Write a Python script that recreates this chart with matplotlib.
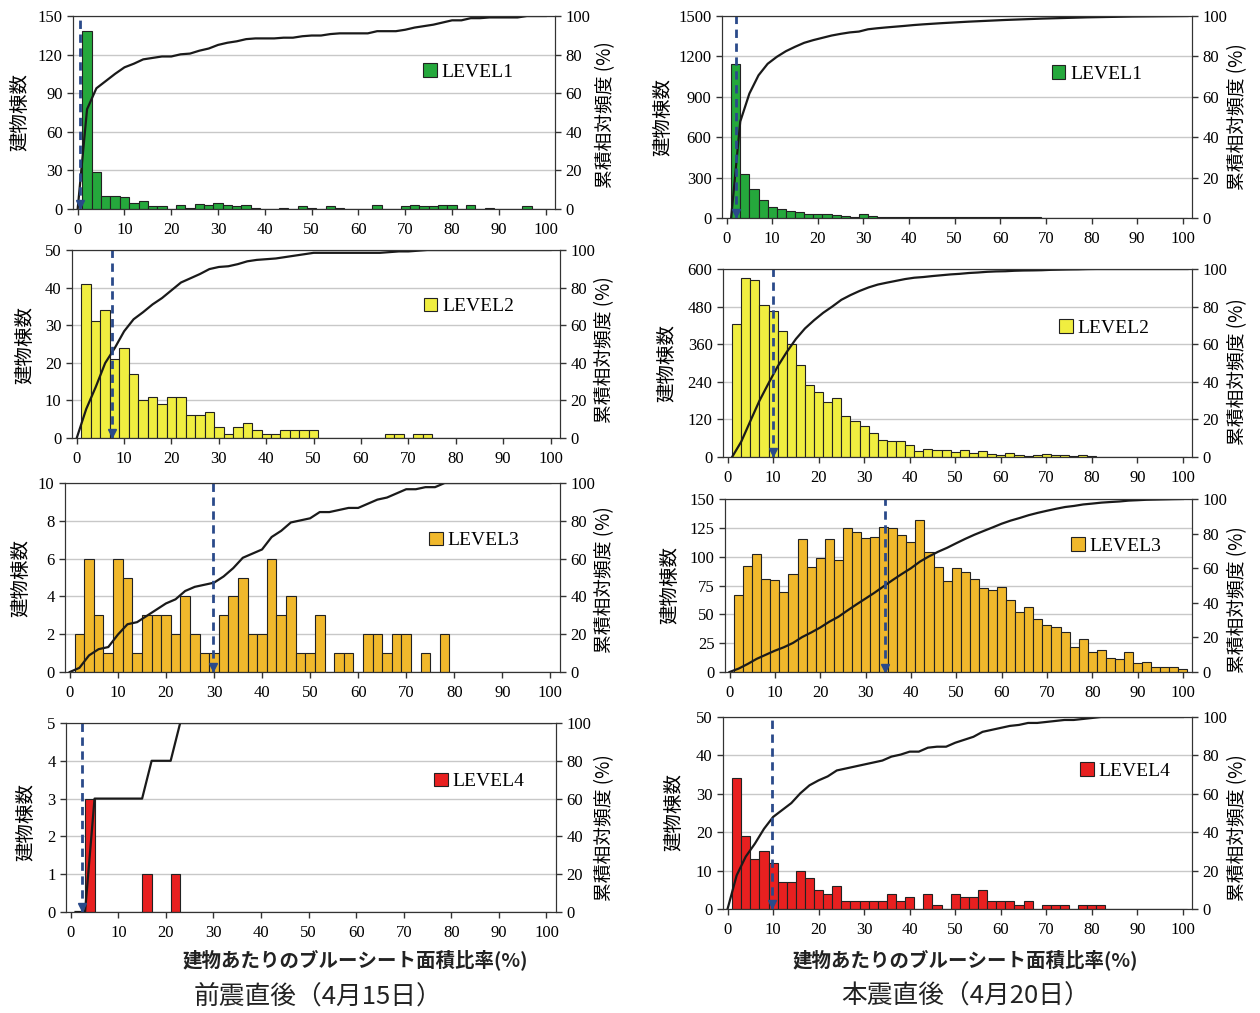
import matplotlib
matplotlib.use("Agg")
import matplotlib.pyplot as plt
from matplotlib.patches import Patch
import numpy as np

plt.rcParams['font.family'] = 'serif'
plt.rcParams['font.serif'] = ['Liberation Serif', 'DejaVu Serif']
JP = ['Noto Sans CJK JP', 'DejaVu Sans']

# bin centres (2% wide bins)
bins = np.arange(2, 101, 2)

# 前震直後 (4/15)
pre_lv1 = [138, 29, 10, 10, 9, 5, 6, 2, 2, 0,
           3, 1, 4, 3, 5, 3, 2, 3, 1, 0,
           0, 1, 0, 2, 1, 0, 2, 1, 0, 0,
           0, 3, 0, 0, 2, 3, 2, 2, 3, 3,
           0, 3, 0, 1, 0, 0, 0, 2, 0, 0]
pre_lv2 = [41, 31, 34, 21, 24, 17, 10, 11, 9, 11,
           11, 6, 6, 7, 3, 1, 3, 4, 2, 1,
           1, 2, 2, 2, 2, 0, 0, 0, 0, 0,
           0, 0, 1, 1, 0, 1, 1, 0, 0, 0,
           0, 0, 0, 0, 0, 0, 0, 0, 0, 0]
pre_lv3 = [2, 6, 3, 1, 6, 5, 1, 3, 3, 3,
           2, 4, 2, 1, 1, 3, 4, 5, 2, 2,
           6, 3, 4, 1, 1, 3, 0, 1, 1, 0,
           2, 2, 1, 2, 2, 0, 1, 0, 2, 0,
           0, 0, 0, 0, 0, 0, 0, 0, 0, 0]
pre_lv4 = [0, 3, 0, 0, 0, 0, 0, 1, 0, 0,
           1, 0, 0, 0, 0, 0, 0, 0, 0, 0,
           0, 0, 0, 0, 0, 0, 0, 0, 0, 0,
           0, 0, 0, 0, 0, 0, 0, 0, 0, 0,
           0, 0, 0, 0, 0, 0, 0, 0, 0, 0]

# 本震直後 (4/20)
main_lv1 = [1140, 330, 216, 136, 82, 67, 52, 47, 32, 27,
            27, 20, 17, 10, 27, 12, 10, 9, 9, 10,
            8, 7, 7, 6, 6, 6, 5, 5, 5, 5,
            4, 4, 4, 4, 3, 3, 3, 3, 3, 2,
            2, 2, 2, 2, 1, 1, 1, 1, 1, 1]
main_lv2 = [424, 572, 565, 485, 466, 402, 360, 293, 229, 206,
            174, 187, 131, 115, 99, 78, 53, 50, 50, 37,
            19, 27, 23, 23, 16, 23, 14, 19, 11, 5,
            13, 7, 3, 5, 11, 5, 5, 3, 7, 3,
            0, 0, 0, 0, 0, 0, 0, 0, 0, 0]
main_lv3 = [67, 92, 102, 81, 80, 69, 85, 115, 91, 99,
            115, 97, 125, 121, 116, 117, 126, 125, 119, 113,
            132, 104, 91, 79, 90, 87, 81, 73, 71, 74,
            62, 52, 56, 46, 41, 39, 35, 22, 29, 17,
            19, 12, 11, 17, 8, 9, 4, 4, 4, 3]
main_lv4 = [34, 19, 13, 15, 12, 7, 7, 10, 8, 5,
            4, 6, 2, 2, 2, 2, 2, 4, 2, 3,
            0, 4, 1, 0, 4, 3, 3, 5, 2, 2,
            2, 1, 2, 0, 1, 1, 1, 0, 1, 1,
            1, 0, 0, 0, 0, 0, 0, 0, 0, 0]

levels = ['LEVEL1', 'LEVEL2', 'LEVEL3', 'LEVEL4']
pre_counts = [pre_lv1, pre_lv2, pre_lv3, pre_lv4]
main_counts = [main_lv1, main_lv2, main_lv3, main_lv4]
pre_median = [0.6, 7.5, 29.8, 2.3]
main_median = [2.0, 9.9, 34.3, 9.7]
pre_ymax = [(150, 30), (50, 10), (10, 2), (5, 1)]
main_ymax = [(1500, 300), (600, 120), (150, 25), (50, 10)]

colors = ['#25a83c', '#f0ee40', '#f0b82c', '#e82020']

W, H = 1260, 1013
fig = plt.figure(figsize=(W / 100, H / 100), dpi=100)


def rect(x0, x1, y0, y1):
    return [x0 / W, 1 - y1 / H, (x1 - x0) / W, (y1 - y0) / H]


pre_rects = [(73, 555, 16, 209), (72, 560, 250, 438), (65, 560, 483, 672), (66, 556, 723, 912)]
main_rects = [(722, 1192, 16, 218), (723, 1192, 269, 457), (725, 1192, 499, 672), (723, 1192, 717, 909)]
pre_leg = [(0.71, 0.71), (0.705, 0.70), (0.72, 0.695), (0.735, 0.69)]
main_leg = [(0.685, 0.713), (0.70, 0.686), (0.725, 0.728), (0.745, 0.72)]
# where the cumulative curve puts its points relative to the bar centre
pre_shift = [0, 0, 0, 1]
main_shift = [1, 1, 0, 0]


def panel(r, counts, color, label, ylim, med, leg, shift):
    ax = fig.add_axes(rect(*r))
    ax.bar(bins, counts, width=2, color=color, edgecolor='#222222', linewidth=0.8, zorder=2)
    ax.set_xlim(-1, 102)
    ax.set_ylim(0, ylim[0])
    ax.set_xticks(range(0, 101, 10))
    ax.set_yticks(np.arange(0, ylim[0] + 1, ylim[1]))
    ax.yaxis.grid(True, color='#c8c8c8', lw=1)
    ax.set_axisbelow(True)
    ax.tick_params(labelsize=12, length=4, width=1, color='#333333')
    ax.tick_params(axis='x', pad=5.5)
    for s in ax.spines.values():
        s.set_color('#333333')

    ax2 = ax.twinx()
    ax2.set_ylim(0, 100)
    ax2.set_yticks(range(0, 101, 20))
    ax2.tick_params(labelsize=12, length=4, width=1, color='#333333')
    for s in ax2.spines.values():
        s.set_color('#333333')
    cum = np.cumsum(counts) / np.sum(counts) * 100
    ax2.plot(np.r_[shift, bins + shift], np.r_[0, cum], color='#1a1a1a', lw=1.6)
    ax2.plot([med, med], [0, 100], ls=(0, (3, 2)), color='#2a4a8a', lw=2)
    ax2.plot(med, 2.5, marker='v', color='#2a4a8a', ms=6)
    ax2.legend(handles=[Patch(facecolor=color, edgecolor='#222222', lw=0.8)], labels=[label],
               loc='center left', bbox_to_anchor=leg, frameon=False, fontsize=14,
               handlelength=0.7, handleheight=0.7, handletextpad=0.25, borderaxespad=0)
    return ax


for i in range(4):
    panel(pre_rects[i], pre_counts[i], colors[i], levels[i], pre_ymax[i], pre_median[i],
          pre_leg[i], pre_shift[i])
    panel(main_rects[i], main_counts[i], colors[i], levels[i], main_ymax[i], main_median[i],
          main_leg[i], main_shift[i])

# axis titles
left_lab = [(20, 112), (25, 345), (21, 578), (26, 822), (663, 117), (667, 363), (670, 585), (674, 812)]
right_lab = [(606, 115), (605, 350), (605, 580), (605, 828), (1238, 117), (1238, 372), (1238, 600), (1238, 828)]
for x, y in left_lab:
    fig.text(x / W, 1 - y / H, '建物棟数', rotation=90, ha='center', va='center',
             fontsize=14, family=JP)
for x, y in right_lab:
    fig.text(x / W, 1 - y / H, '累積相対頻度 (%)', rotation=90, ha='center', va='center',
             fontsize=13.5, family=JP)

for x in (355, 965):
    fig.text(x / W, 1 - 960 / H, '建物あたりのブルーシート面積比率(%)', ha='center', va='center',
             fontsize=14, fontweight='bold', family=JP, color='#222222')
fig.text(318 / W, 1 - 997 / H, '前震直後（4月15日）', ha='center', va='center', fontsize=18.5, family=JP,
         color='#222222')
fig.text(966 / W, 1 - 997 / H, '本震直後（4月20日）', ha='center', va='center', fontsize=18.5, family=JP,
         color='#222222')

fig.savefig('out.png', dpi=100)
